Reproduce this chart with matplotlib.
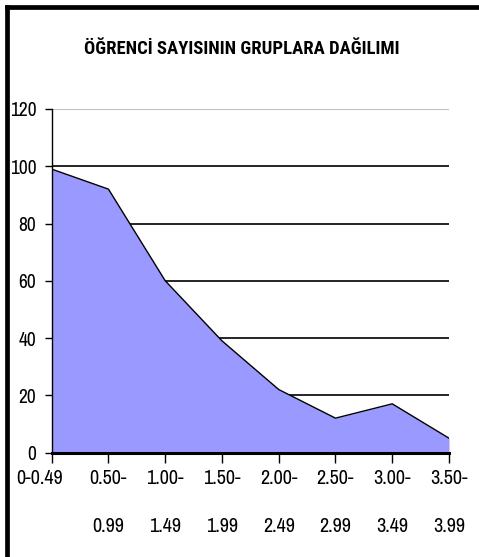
import matplotlib
matplotlib.use("Agg")
import matplotlib.pyplot as plt
from matplotlib import font_manager
from matplotlib.lines import Line2D
from matplotlib.transforms import ScaledTranslation
import numpy as np

categories = ["0-0.49", "0.50-\n0.99", "1.00-\n1.49", "1.50-\n1.99", "2.00-\n2.49",
              "2.50-\n2.99", "3.00-\n3.49", "3.50-\n3.99"]
values = [99, 92, 60, 39, 22, 12, 17, 5]
y_ticks = [0, 20, 40, 60, 80, 100, 120]
title = "ÖĞRENCİ SAYISININ GRUPLARA DAĞILIMI"

names = {f.name for f in font_manager.fontManager.ttflist}


def pick(cands):
    for c in cands:
        if c in names:
            return c
    return "Liberation Sans"


body_font = pick(["Liberation Sans Narrow", "Archivo Narrow", "Roboto Condensed", "Asap Condensed"])
title_font = pick(["Liberation Sans Narrow", "Roboto Condensed", "Archivo Narrow", "Asap Condensed"])
plt.rcParams['font.family'] = [body_font, 'DejaVu Sans']

W, H = 479, 557
fig = plt.figure(figsize=(W / 100, H / 100), dpi=100)
fig.patch.set_facecolor("white")

ax = fig.add_axes([51.7 / W, 1 - 452.5 / H, (449 - 51.7) / W, (452.5 - 109) / H])
x = np.arange(len(values))
ax.fill_between(x, values, 0, color="#9999FF", linewidth=0, zorder=2)
ax.plot(x, values, color="black", linewidth=1.0, zorder=3)

ax.set_xlim(0, len(values) - 1)
ax.set_ylim(0, 120)
ax.set_yticks(y_ticks)
ax.set_yticklabels([str(v) for v in y_ticks], fontsize=14)
ax.set_xticks(x)
ax.set_xticklabels(categories, fontsize=14.5, linespacing=2.95, va="top")

for v in y_ticks[1:-1]:
    ax.axhline(v, color="black", linewidth=1.2, zorder=1)
ax.axhline(120, color="#bfbfbf", linewidth=1.5, zorder=1)

for s in ["top", "right"]:
    ax.spines[s].set_visible(False)
ax.spines["left"].set_linewidth(1.0)
ax.spines["bottom"].set_linewidth(2.2)
ax.spines["bottom"].set_zorder(4)
ax.tick_params(axis="y", direction="out", length=5, width=1, pad=6)
ax.tick_params(axis="x", direction="out", length=7, width=1, pad=5)

lbls = ax.get_xticklabels()
lbls[0].set_transform(lbls[0].get_transform() + ScaledTranslation(-12 / 100, 0, fig.dpi_scale_trans))

fig.text(242 / W, 1 - 49 / H, title, ha="center", va="center", fontsize=13.4,
         fontweight="bold", family=[title_font, 'DejaVu Sans'])

# figure border (top and left only visible)
fig.add_artist(Line2D([6.5 / W, 1.01], [1 - 6.5 / H, 1 - 6.5 / H], color="black", linewidth=3.4,
                      transform=fig.transFigure, solid_capstyle="projecting"))
fig.add_artist(Line2D([6.5 / W, 6.5 / W], [1 - 6.5 / H, -0.01], color="black", linewidth=3.4,
                      transform=fig.transFigure, solid_capstyle="projecting"))

fig.savefig("out.png", dpi=100, facecolor="white")
